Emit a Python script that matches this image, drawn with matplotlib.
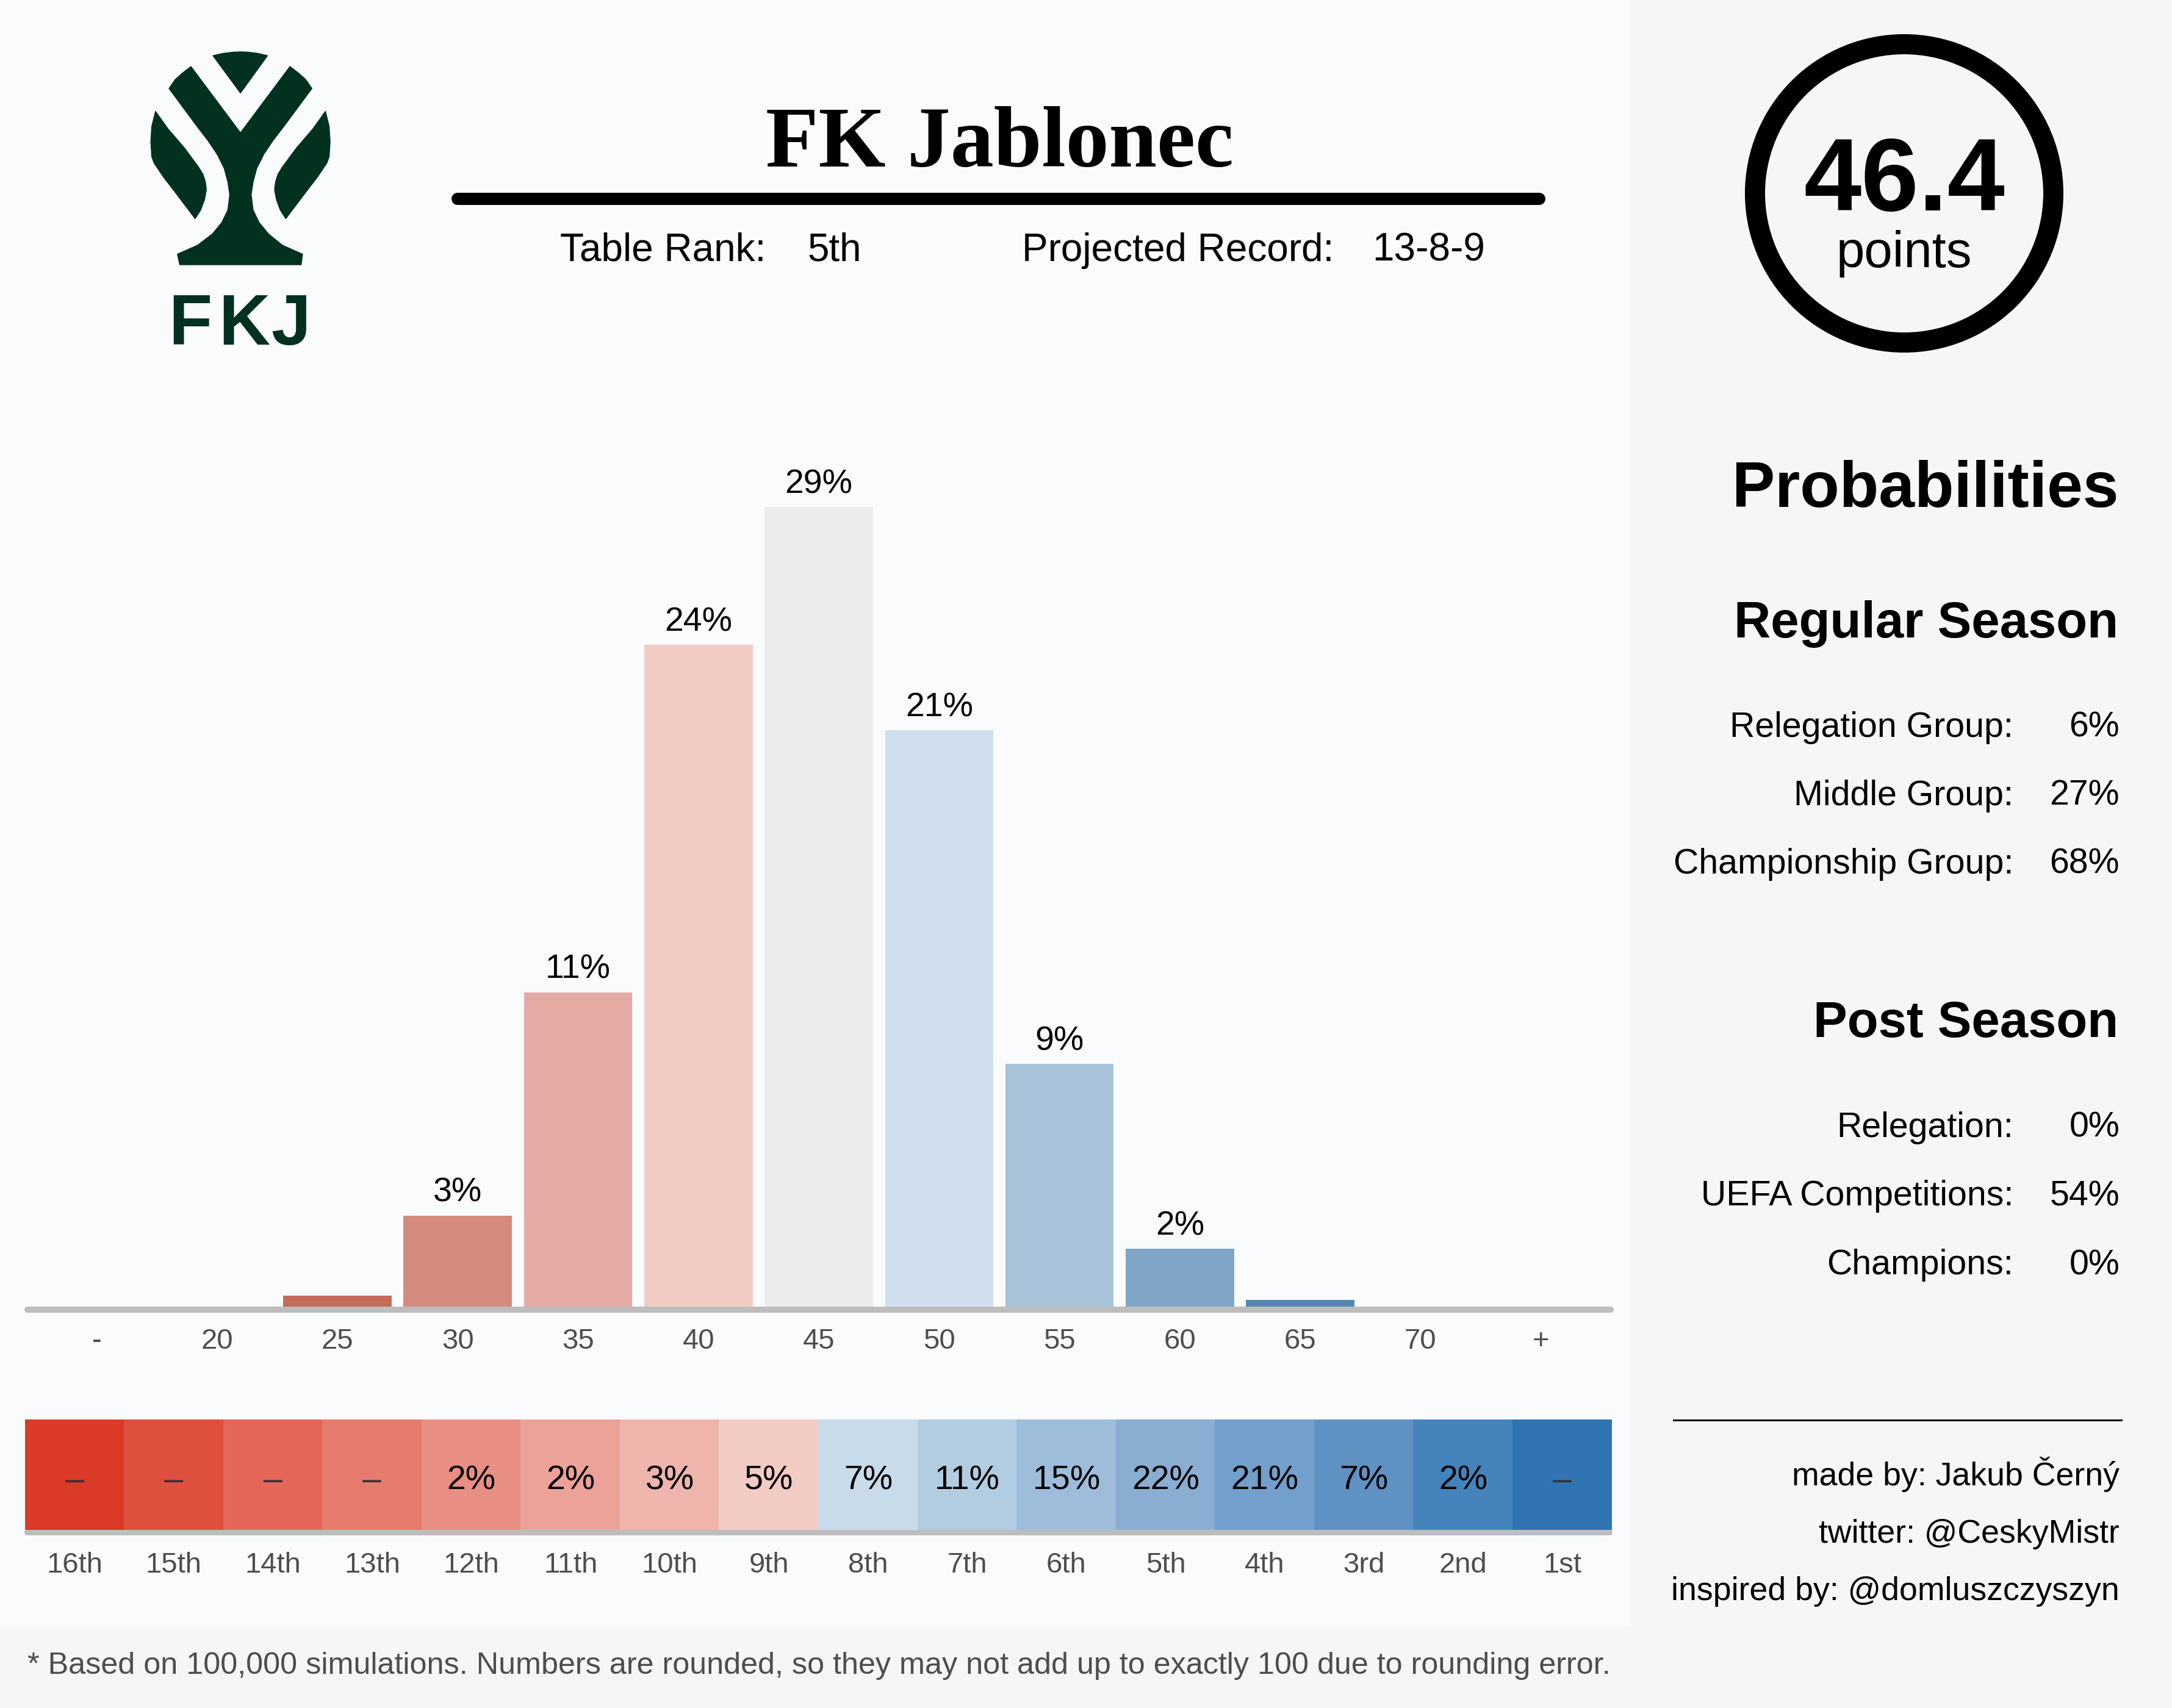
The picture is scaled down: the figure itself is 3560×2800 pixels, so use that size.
import matplotlib
matplotlib.use('Agg')
import matplotlib.pyplot as plt
from matplotlib.patches import Polygon, Circle, Rectangle
from matplotlib.colors import ListedColormap
import numpy as np

plt.rcParams['font.family'] = ['Liberation Sans', 'DejaVu Sans']

# ---------------- data ----------------
team = "FK Jablonec"
table_rank = "5th"
projected_record = "13-8-9"
projected_points = "46.4"

point_bins = ['-', '20', '25', '30', '35', '40', '45', '50', '55', '60', '65', '70', '+']
point_probs = [0.0, 0.0, 0.4, 3.3, 11.4, 24.0, 29.0, 20.9, 8.8, 2.1, 0.25, 0.0, 0.0]
bar_colors = ['#a8382b', '#b5503f', '#c46b5c', '#d48b7e', '#e3aba4', '#f2cbc5', '#ececec',
              '#cfdfee', '#a8c3d9', '#7fa6c6', '#5288b0', '#3b73a0', '#2a5f8f']

rank_labels = ['16th', '15th', '14th', '13th', '12th', '11th', '10th', '9th',
               '8th', '7th', '6th', '5th', '4th', '3rd', '2nd', '1st']
rank_probs = [0, 0, 0, 0, 2, 2, 3, 5, 7, 11, 15, 22, 21, 7, 2, 0]
rank_colors = ['#db3a26', '#df4f3e', '#e36659', '#e67b6d', '#e98e82', '#eca298', '#efb5ad', '#f2cbc5',
               '#c8dbea', '#b2cde2', '#9dbddb', '#8aaed2', '#729fcb', '#5f92c3', '#4483bb', '#3174b3']

regular_labels = ['Relegation Group:', 'Middle Group:', 'Championship Group:']
regular_values = [6, 27, 68]
post_labels = ['Relegation:', 'UEFA Competitions:', 'Champions:']
post_values = [0, 54, 0]
credits = ['made by: Jakub Černý', 'twitter: @CeskyMistr', 'inspired by: @domluszczyszyn']
footnote = ("* Based on 100,000 simulations. Numbers are rounded, so they may not add up "
            "to exactly 100 due to rounding error.")

# ---------------- figure ----------------
W, H, DPI = 3560, 2800, 200
PT = 72.0 / DPI  # points per pixel
fig = plt.figure(figsize=(W / DPI, H / DPI), dpi=DPI, facecolor='#f5f6f5')

ov = fig.add_axes([0, 0, 1, 1])
ov.set_xlim(0, W)
ov.set_ylim(H, 0)
ov.axis('off')
ov.set_zorder(0)
ov.add_patch(Rectangle((0, 0), 2670, 2666, color='#fafbfc', zorder=0, lw=0))

# ---------------- logo ----------------
LOGO = '#02311f'
sx, sy = 0.7653, 0.4145
top_wedge = [(456, 220), (478, 211), (500, 206), (515, 205), (530, 206), (552, 211), (573, 220), (515, 368)]
main_y = [(409, 263), (515, 525), (621, 263), (640, 290), (655, 315), (668, 350),
          (640, 420), (610, 495), (585, 555), (565, 610), (550, 665), (542, 720), (538, 770),
          (542, 830), (555, 880), (575, 925), (605, 970), (648, 1005), (645, 1047),
          (385, 1047), (380, 1005), (423, 970), (455, 925), (475, 880), (488, 830),
          (492, 770), (488, 720), (480, 665), (465, 610), (445, 555), (420, 495),
          (390, 420), (362, 350), (375, 315), (390, 290)]
left_leaf = [(333, 440), (325, 500), (323, 560), (325, 620), (330, 645), (350, 700), (375, 760),
             (418, 865), (430, 830), (438, 790), (442, 750), (440, 720), (435, 690), (425, 660),
             (395, 585), (360, 510)]
right_leaf = [(1030 - x, y) for x, y in left_leaf]
for shape in (top_wedge, main_y, left_leaf, right_leaf):
    ov.add_patch(Polygon([(x * sx, y * sy) for x, y in shape], closed=True,
                         facecolor=LOGO, edgecolor=LOGO, lw=0.5, zorder=2))
for letter, cx in zip('FKJ', (312, 400, 477)):
    ov.text(cx, 565, letter, fontfamily='Liberation Sans', fontweight='bold', fontsize=42,
            color=LOGO, ha='center', va='baseline', zorder=2)

# ---------------- title ----------------
ov.text(1638, 273, team, fontfamily=['Liberation Serif', 'DejaVu Serif'], fontweight='bold',
        fontsize=51, ha='center', va='baseline', color='black', zorder=2)
ov.plot([750, 2523], [326, 326], color='black', lw=20 * PT, solid_capstyle='round', zorder=2)
sub_fs = 23
ov.text(918, 428, 'Table Rank:', fontsize=sub_fs, va='baseline', zorder=2)
ov.text(1324, 428, table_rank, fontsize=sub_fs, va='baseline', zorder=2)
ov.text(1675, 428, 'Projected Record:', fontsize=sub_fs, va='baseline', zorder=2)
ov.text(2249, 428, projected_record, fontsize=sub_fs, va='baseline', zorder=2)

# ---------------- bar chart ----------------
ax = fig.add_axes([40 / W, (H - 2142) / H, 2604 / W, 1446.6 / H])
ax.set_zorder(2)
ax.patch.set_alpha(0)
x = np.arange(len(point_bins))
ax.bar(x, point_probs, width=0.9, color=bar_colors, zorder=2)
ax.set_xlim(-0.6, 12.6)
ax.set_ylim(0, 32)
ax.axis('off')
for i, v in enumerate(point_probs):
    if round(v) >= 1:
        ax.annotate(f"{round(v)}%", xy=(i, v), xytext=(0, 23 * PT), textcoords='offset points',
                    ha='center', va='baseline', fontsize=20, color='black')
    ax.annotate(point_bins[i], xy=(i, 0), xytext=(0, -69 * PT), textcoords='offset points',
                ha='center', va='baseline', fontsize=17, color='#4d4d4d', annotation_clip=False)
ov.plot([45, 2640], [2147, 2147], color='#bdbdbd', lw=10 * PT, solid_capstyle='round', zorder=3)

# ---------------- rank strip ----------------
axh = fig.add_axes([41 / W, (H - 2508) / H, 2601 / W, 181 / H])
axh.set_zorder(2)
axh.imshow([np.arange(len(rank_labels))], cmap=ListedColormap(rank_colors), aspect='auto',
           extent=(-0.5, len(rank_labels) - 0.5, 0, 1), interpolation='nearest')
axh.set_xlim(-0.5, len(rank_labels) - 0.5)
axh.set_ylim(0, 1)
axh.axis('off')
for i, v in enumerate(rank_probs):
    if v >= 1:
        axh.annotate(f"{v}%", xy=(i, 0), xytext=(0, 66 * PT), textcoords='offset points',
                     ha='center', va='baseline', fontsize=20, color='black')
    else:
        axh.annotate("–", xy=(i, 0), xytext=(0, 66 * PT), textcoords='offset points',
                     ha='center', va='baseline', fontsize=20, color='#333333')
    axh.annotate(rank_labels[i], xy=(i, 0), xytext=(0, -70 * PT), textcoords='offset points',
                 ha='center', va='baseline', fontsize=17, color='#4d4d4d', annotation_clip=False)
ov.plot([45, 2638], [2512, 2512], color='#bdbdbd', lw=10 * PT, solid_capstyle='round', zorder=3)

# ---------------- right panel ----------------
ov.add_patch(Circle((3121, 317), 244.5, fill=False, edgecolor='black', lw=33 * PT, zorder=2))
ov.text(3121, 345, projected_points, fontsize=61, fontweight='bold', ha='center', va='baseline', zorder=2)
ov.text(3121, 438, 'points', fontsize=30, ha='center', va='baseline', zorder=2)

RX = 3472
ov.text(RX, 831, 'Probabilities', fontsize=38, fontweight='bold', ha='right', va='baseline', zorder=2)
ov.text(RX, 1045, 'Regular Season', fontsize=30, fontweight='bold', ha='right', va='baseline', zorder=2)
row_fs = 20.6
for k, (lbl, val) in enumerate(zip(regular_labels, regular_values)):
    yb = 1208 + 112 * k
    ov.text(3300, yb, lbl, fontsize=row_fs, ha='right', va='baseline', zorder=2)
    ov.text(RX + 2, yb, f"{val}%", fontsize=row_fs, ha='right', va='baseline', zorder=2)
ov.text(RX, 1700, 'Post Season', fontsize=30, fontweight='bold', ha='right', va='baseline', zorder=2)
for k, (lbl, val) in enumerate(zip(post_labels, post_values)):
    yb = 1864 + 112.5 * k
    ov.text(3300, yb, lbl, fontsize=row_fs, ha='right', va='baseline', zorder=2)
    ov.text(RX + 2, yb, f"{val}%", fontsize=row_fs, ha='right', va='baseline', zorder=2)

ov.plot([2743, 3477], [2328, 2328], color='black', lw=3 * PT, zorder=2)
for k, c in enumerate(credits):
    ov.text(3474, 2435 + 94 * k, c, fontsize=19.3, ha='right', va='baseline', zorder=2)

# ---------------- footnote ----------------
ov.text(45, 2744, footnote, fontsize=18.1, color='#4d4d4d', ha='left', va='baseline', zorder=2)

fig.savefig('out.png', dpi=DPI, facecolor=fig.get_facecolor())
